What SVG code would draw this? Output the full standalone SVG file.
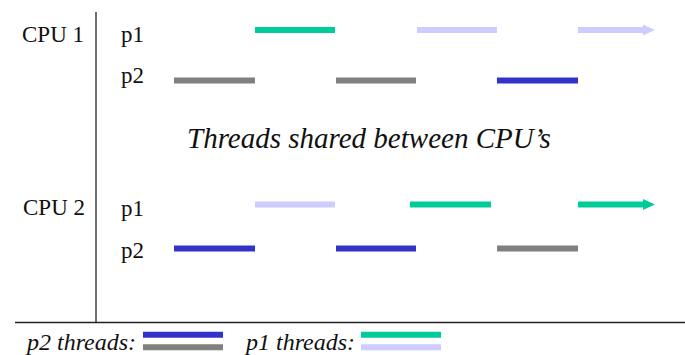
<svg xmlns="http://www.w3.org/2000/svg" width="685" height="355" viewBox="0 0 685 355">
  <style>
    text { font-family: "Times New Roman", Times, "Liberation Serif", Tinos, "Noto Serif", "DejaVu Serif", FreeSerif, serif; fill: #111; }
    .lbl { font-size: 23px; }
    .it { font-style: italic; }
    .axis { stroke: #222; stroke-width: 1.3; fill: none; }
    .bar { stroke-width: 6; fill: none; }
    .p1a { stroke: #00CC99; }
    .p1b { stroke: #CCCCFF; }
    .p2a { stroke: #3333CC; }
    .p2b { stroke: #808080; }
  </style>

  <!-- axes -->
  <g id="axes">
    <line class="axis" x1="96" y1="12" x2="96" y2="322.5"/>
    <line class="axis" x1="15" y1="322.5" x2="685" y2="322.5"/>
  </g>

  <!-- CPU 1 timeline -->
  <g id="cpu1">
    <text class="lbl" x="22" y="42">CPU 1</text>
    <text class="lbl" x="121" y="42">p1</text>
    <text class="lbl" x="121" y="83">p2</text>
    <line class="bar p1a" x1="255" y1="30" x2="335" y2="30"/>
    <line class="bar p1b" x1="417" y1="30" x2="497" y2="30"/>
    <line class="bar p1b" x1="578" y1="30" x2="644" y2="30"/>
    <polygon fill="#CCCCFF" points="643,24.5 655,30 643,35.5"/>
    <line class="bar p2b" x1="174" y1="80.5" x2="255" y2="80.5"/>
    <line class="bar p2b" x1="336" y1="80.5" x2="416" y2="80.5"/>
    <line class="bar p2a" x1="497" y1="80.5" x2="578" y2="80.5"/>
  </g>

  <!-- caption -->
  <g id="caption">
    <text class="it" x="187" y="148" font-size="29">Threads shared between CPU’s</text>
  </g>

  <!-- CPU 2 timeline -->
  <g id="cpu2">
    <text class="lbl" x="23" y="215">CPU 2</text>
    <text class="lbl" x="121" y="216">p1</text>
    <text class="lbl" x="121" y="258">p2</text>
    <line class="bar p1b" x1="255" y1="204.5" x2="335" y2="204.5"/>
    <line class="bar p1a" x1="410" y1="204.5" x2="491" y2="204.5"/>
    <line class="bar p1a" x1="578" y1="204.5" x2="644" y2="204.5"/>
    <polygon fill="#00CC99" points="643,199 655,204.5 643,210"/>
    <line class="bar p2a" x1="174" y1="248.5" x2="255" y2="248.5"/>
    <line class="bar p2a" x1="336" y1="248.5" x2="416" y2="248.5"/>
    <line class="bar p2b" x1="497" y1="248.5" x2="578" y2="248.5"/>
  </g>

  <!-- legend -->
  <g id="legend">
    <text class="it" x="27" y="350" font-size="24">p2 threads:</text>
    <line class="bar p2a" x1="143" y1="334.7" x2="223" y2="334.7"/>
    <line class="bar p2b" x1="143" y1="347.3" x2="223" y2="347.3"/>
    <text class="it" x="246" y="350" font-size="24">p1 threads:</text>
    <line class="bar p1a" x1="361" y1="334.7" x2="441" y2="334.7"/>
    <line class="bar p1b" x1="361" y1="347.3" x2="441" y2="347.3"/>
  </g>
</svg>
